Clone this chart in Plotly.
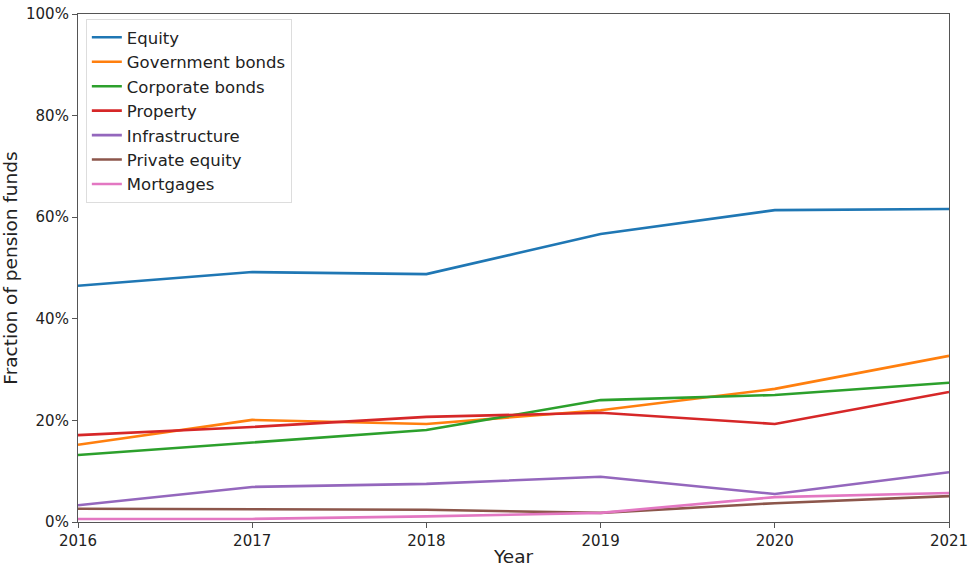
import plotly.graph_objects as go

years = [2016, 2017, 2018, 2019, 2020, 2021]

equity = [46.5, 49.2, 48.8, 56.7, 61.4, 61.6]
government_bonds = [15.2, 20.1, 19.3, 22.0, 26.2, 32.7]
corporate_bonds = [13.2, 15.6, 18.1, 24.0, 25.0, 27.4]
property_ = [17.1, 18.7, 20.7, 21.5, 19.3, 25.6]
infrastructure = [3.3, 6.9, 7.5, 8.9, 5.5, 9.8]
private_equity = [2.6, 2.5, 2.4, 1.8, 3.7, 5.1]
mortgages = [0.6, 0.6, 1.1, 1.8, 4.9, 5.7]

series = [
    ("Equity", equity, "#1f77b4"),
    ("Government bonds", government_bonds, "#ff7f0e"),
    ("Corporate bonds", corporate_bonds, "#2ca02c"),
    ("Property", property_, "#d62728"),
    ("Infrastructure", infrastructure, "#9467bd"),
    ("Private equity", private_equity, "#8c564b"),
    ("Mortgages", mortgages, "#e377c2"),
]

y_ticks = [0, 20, 40, 60, 80, 100]

fig = go.Figure()
for name, values, color in series:
    fig.add_trace(go.Scatter(
        x=years, y=values, name=name, mode="lines", legendgroup=name,
        line=dict(color=color, width=2.6),
    ))

axis_common = dict(
    showgrid=False, zeroline=False, automargin=False,
    showline=True, linecolor="#555555", linewidth=1.2, mirror=True,
    ticks="outside", ticklen=5, tickcolor="#555555",
    tickfont=dict(family="DejaVu Sans", size=15, color="#222222"),
)

fig.update_layout(
    width=972, height=567,
    margin=dict(l=78, r=23, t=14, b=45),
    paper_bgcolor="white", plot_bgcolor="white",
    font=dict(family="DejaVu Sans", color="#222222"),
    xaxis=dict(
        range=[2016, 2021], tickvals=years, ticktext=[str(y) for y in years],
        title=dict(text="Year", font=dict(size=18.5), standoff=4),
        **axis_common,
    ),
    yaxis=dict(
        range=[0, 100], tickvals=y_ticks, ticktext=[f"{v}%" for v in y_ticks],
        title=dict(text="Fraction of pension funds", font=dict(size=18.5), standoff=6),
        **axis_common,
    ),
    legend=dict(
        x=0.009, y=0.99, xanchor="left", yanchor="top",
        bgcolor="white", bordercolor="#dddddd", borderwidth=1,
        font=dict(family="DejaVu Sans", size=16.5, color="#222222"),
        tracegroupgap=0,
    ),
    showlegend=True,
)

fig.write_html("out.html")
